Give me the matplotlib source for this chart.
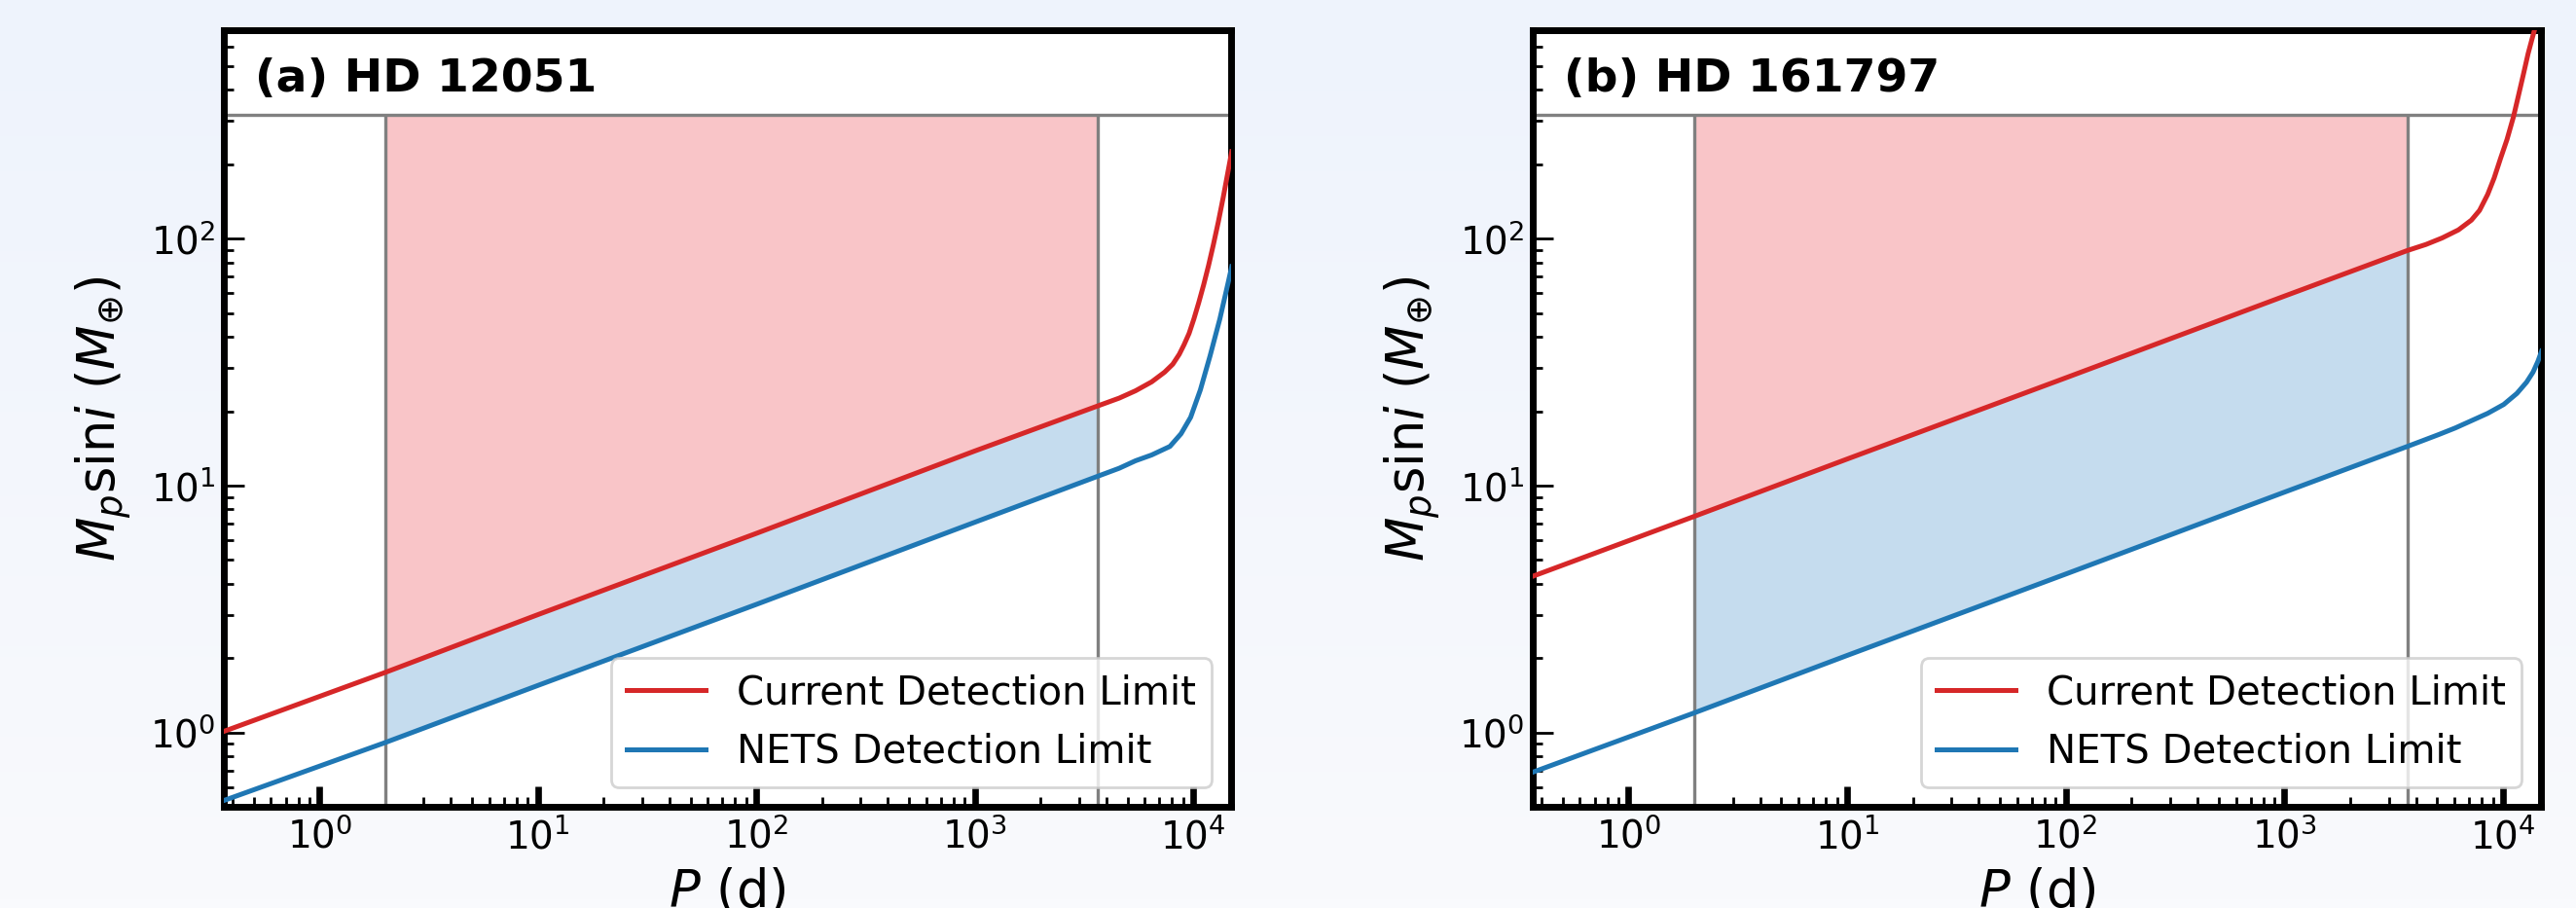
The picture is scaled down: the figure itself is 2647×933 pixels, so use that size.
import numpy as np
import matplotlib
matplotlib.use('Agg')
import matplotlib.pyplot as plt
from matplotlib.colors import LinearSegmentedColormap

# Valores (P em dias, Msini em massas terrestres)
# (a) HD 12051
p_a_current = [0.365, 2, 10, 100, 1000, 3650, 4585, 5445, 6455, 7400, 8060, 8630, 9080, 9570,
               10070, 10600, 11160, 11750, 12370, 13030, 13710, 14430, 15000]
m_a_current = [1.01, 1.75, 3.0, 6.4, 13.8, 21.0, 22.6, 24.2, 26.3, 28.8, 31.0, 34.0, 37.2, 41.3,
               47.3, 55.1, 65.0, 77.8, 94.7, 117.0, 146.6, 187.0, 225.0]
p_a_nets = [0.365, 2, 10, 100, 1000, 3650, 4585, 5445, 6455, 7820, 8790, 9730, 10780, 11940,
            13240, 14430, 15000]
m_a_nets = [0.53, 0.91, 1.55, 3.3, 7.1, 10.9, 11.75, 12.6, 13.3, 14.4, 16.2, 18.9, 24.4, 33.5,
            47.3, 66.0, 77.0]

# (b) HD 161797
p_b_current = [0.365, 2, 10, 100, 1000, 3650, 4440, 5260, 6250, 7160, 7800, 8500, 9100, 9730,
               10420, 11160, 11750, 12370, 13010, 13710, 14090]
m_b_current = [4.29, 7.5, 12.8, 27.3, 58.5, 89.5, 94.7, 100.6, 108.5, 118.8, 130.0, 151.0, 176.0,
               211.0, 252.0, 312.0, 379.0, 461.0, 561.0, 667.0, 726.0]
p_b_nets = [0.365, 2, 10, 100, 1000, 3650, 4290, 5090, 6040, 7160, 8500, 10070, 11560, 12800,
            13710, 14420, 15000]
m_b_nets = [0.69, 1.2, 2.05, 4.38, 9.4, 14.4, 15.2, 16.1, 17.1, 18.3, 19.6, 21.3, 23.6, 26.2,
            28.8, 31.8, 35.0]

titulos = ['(a) HD 12051', '(b) HD 161797']

M_JUP = 317.8   # 1 massa de Jupiter em M_terra
P_MIN = 2       # dias
P_MAX = 3650    # 10 anos

# Fundo da figura em degrade
fig = plt.figure(figsize=(13.235, 4.665), dpi=200)
bg = fig.add_axes([0, 0, 1, 1], zorder=-10)
cmap_bg = LinearSegmentedColormap.from_list('bg', ['#eef3fc', '#f9fafd'])
bg.imshow(np.linspace(0, 1, 64).reshape(-1, 1), aspect='auto', cmap=cmap_bg,
          extent=[0, 1, 0, 1], interpolation='bicubic')
bg.axis('off')

posicoes = [[0.0869, 0.1115, 0.391, 0.8555], [0.595, 0.1115, 0.3914, 0.8555]]
curvas = [
    (p_a_current, m_a_current, p_a_nets, m_a_nets),
    (p_b_current, m_b_current, p_b_nets, m_b_nets),
]

for pos, (pc, mc, pn, mn), titulo in zip(posicoes, curvas, titulos):
    ax = fig.add_axes(pos)
    pc, mc, pn, mn = map(np.array, (pc, mc, pn, mn))

    # Regioes preenchidas entre 2 d e 10 anos
    sel_c = (pc >= P_MIN) & (pc <= P_MAX)
    sel_n = (pn >= P_MIN) & (pn <= P_MAX)
    ax.fill_between(pc[sel_c], mc[sel_c], M_JUP, color='#f9c5c8', lw=0, zorder=1)
    ax.fill_between(pn[sel_n], mn[sel_n], mc[sel_c], color='#c5dcee', lw=0, zorder=1)

    ax.axhline(M_JUP, color='gray', lw=1.2, zorder=2)
    ax.vlines([P_MIN, P_MAX], 0.5, M_JUP, color='gray', lw=1.2, zorder=2)

    ax.plot(pc, mc, color='tab:red', lw=1.8, label='Current Detection Limit', zorder=3)
    ax.plot(pn, mn, color='tab:blue', lw=1.8, label='NETS Detection Limit', zorder=3)

    ax.set_xscale('log')
    ax.set_yscale('log')
    ax.set_xlim(0.365, 1.49e4)
    ax.set_ylim(0.5, 700)

    ax.text(0.031, 0.921, titulo, transform=ax.transAxes, fontsize=17,
            fontweight='bold', va='baseline', ha='left')

    ax.set_xlabel(r'$P$ (d)', fontsize=19)
    ax.set_ylabel(r'$M_p$sin$i$ ($M_{\oplus}$)', fontsize=19, labelpad=6)

    ax.tick_params(which='both', direction='in', top=False, right=False, labelsize=14)
    ax.tick_params(axis='x', which='major', length=7.5, width=2.4, pad=4)
    ax.tick_params(axis='y', which='major', length=7.5, width=1.0, pad=3)
    ax.tick_params(which='minor', length=3.6, width=1.0)
    for s in ax.spines.values():
        s.set_linewidth(2.5)

    ax.legend(loc='lower right', fontsize=14.5)

fig.savefig('out.png', dpi=200)
